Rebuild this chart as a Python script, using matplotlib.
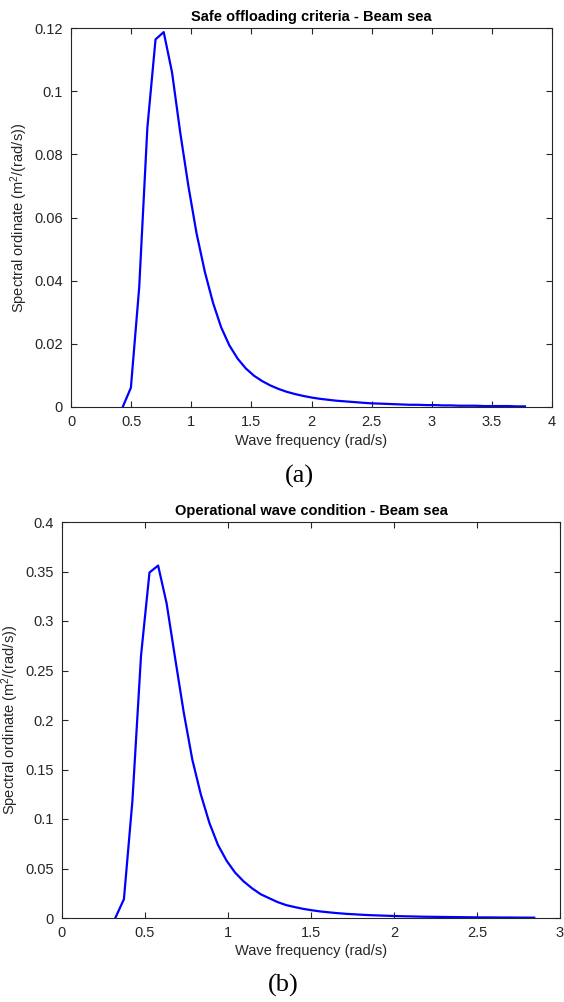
import numpy as np
import matplotlib.pyplot as plt
from matplotlib.ticker import FormatStrFormatter

# panel (a): safe offloading criteria
freq_a = [0.430, 0.498, 0.567, 0.635, 0.703, 0.771, 0.840, 0.908, 0.976, 1.044,
          1.113, 1.181, 1.249, 1.317, 1.386, 1.454, 1.522, 1.590, 1.659, 1.727,
          1.795, 1.863, 1.932, 2.000, 2.068, 2.136, 2.205, 2.273, 2.341, 2.409,
          2.478, 2.546, 2.614, 2.682, 2.751, 2.819, 2.887, 2.955, 3.024, 3.092,
          3.160, 3.228, 3.297, 3.365, 3.433, 3.501, 3.570, 3.638, 3.706, 3.775]
spec_a = [0, 0.0061, 0.0378, 0.0884, 0.1164, 0.1187, 0.1060, 0.0870, 0.0700, 0.0550,
          0.0428, 0.0330, 0.0252, 0.0195, 0.0153, 0.0122, 0.0099, 0.0082, 0.0068, 0.0057,
          0.0048, 0.0041, 0.0035, 0.0030, 0.0026, 0.0023, 0.0020, 0.0018, 0.0016, 0.0014,
          0.0012, 0.0011, 0.0010, 0.0009, 0.0008, 0.0007, 0.0007, 0.0006, 0.0006, 0.0005,
          0.0005, 0.0004, 0.0004, 0.0004, 0.0003, 0.0003, 0.0003, 0.0003, 0.0002, 0.0002]

# panel (b): operational wave condition
freq_b = [0.321, 0.373, 0.424, 0.476, 0.527, 0.579, 0.630, 0.682, 0.733, 0.785,
          0.836, 0.888, 0.939, 0.991, 1.042, 1.094, 1.145, 1.197, 1.248, 1.300,
          1.351, 1.403, 1.454, 1.506, 1.557, 1.609, 1.660, 1.712, 1.763, 1.815,
          1.866, 1.918, 1.969, 2.021, 2.072, 2.124, 2.175, 2.227, 2.278, 2.330,
          2.381, 2.433, 2.484, 2.536, 2.587, 2.639, 2.690, 2.742, 2.793, 2.845]
spec_b = [0, 0.019, 0.118, 0.265, 0.349, 0.356, 0.318, 0.262, 0.208, 0.160,
          0.125, 0.096, 0.074, 0.058, 0.046, 0.037, 0.030, 0.024, 0.020, 0.016,
          0.013, 0.011, 0.0092, 0.0078, 0.0066, 0.0057, 0.0049, 0.0042, 0.0037, 0.0032,
          0.0028, 0.0025, 0.0022, 0.0019, 0.0017, 0.0015, 0.0013, 0.0012, 0.0011, 0.0010,
          0.0009, 0.0008, 0.0007, 0.0006, 0.0006, 0.0005, 0.0005, 0.0004, 0.0004, 0.0003]

plt.rcParams.update({
    "font.family": ["Liberation Sans", "DejaVu Sans"],
    "mathtext.default": "regular",
    "font.size": 10,
})
grey = (0.15, 0.15, 0.15)

fig = plt.figure(figsize=(5.64, 10.02), dpi=100)
ax1 = fig.add_axes([71/564, 1-407/1002, 481/564, 379/1002])
ax2 = fig.add_axes([62/564, 1-918/1002, 498/564, 396/1002])


def style(ax, x, y, title, xmax, ymax, xstep, ystep):
    ax.plot(x, y, color=(0, 0, 1), lw=1.6)
    ax.set_xlim(0, xmax)
    ax.set_ylim(0, ymax)
    ax.set_xticks(np.arange(0, xmax + 1e-9, xstep))
    ax.set_yticks(np.arange(0, ymax + 1e-9, ystep))
    ax.xaxis.set_major_formatter(FormatStrFormatter("%g"))
    ax.yaxis.set_major_formatter(FormatStrFormatter("%g"))
    ax.tick_params(direction="in", length=4, width=0.8, top=True, right=True,
                   colors=grey, labelsize=10.5, pad=6)
    for s in ax.spines.values():
        s.set_color(grey)
        s.set_linewidth(0.8)
    ax.set_title(title, fontsize=10.5, fontweight="bold", pad=5)
    ax.set_xlabel("Wave frequency (rad/s)", color=grey, fontsize=10.5, labelpad=3)
    ax.set_ylabel("Spectral ordinate (m$^{2}$/(rad/s))", color=grey, fontsize=10.5,
                  labelpad=3)


style(ax1, freq_a, spec_a, "Safe offloading criteria - Beam sea", 4, 0.12, 0.5, 0.02)
style(ax2, freq_b, spec_b, "Operational wave condition - Beam sea", 3, 0.4, 0.5, 0.05)

fig.text(299/564, 1-476/1002, "(a)", ha="center", va="center",
         family="Liberation Serif", fontsize=19)
fig.text(283/564, 1-985/1002, "(b)", ha="center", va="center",
         family="Liberation Serif", fontsize=19)

fig.savefig("out.png", dpi=100)
